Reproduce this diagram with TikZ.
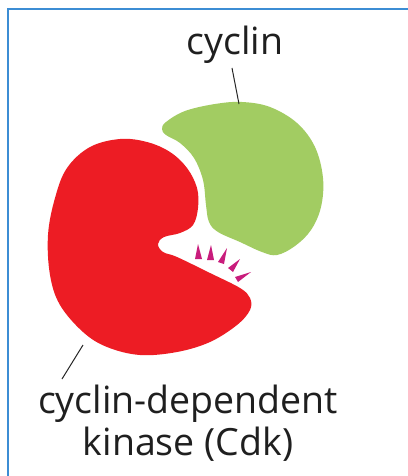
\documentclass[tikz,border=0pt]{standalone}
\usepackage{fontspec}
\setmainfont{Open Sans}
\begin{document}
\begin{tikzpicture}[x=1pt,y=-1pt,
  leader/.style={draw=black!85,line width=1pt},
  lbl/.style={inner sep=0pt,outer sep=0pt,text=black!88,font=\fontsize{37.5}{42}\selectfont},
  spike/.style={fill=spikecol},
]
\definecolor{frame}{HTML}{3C8DD4}
\definecolor{cdkred}{HTML}{ED1C24}
\definecolor{cycgreen}{HTML}{A2CC62}
\definecolor{spikecol}{HTML}{C91C7C}
\useasboundingbox (0,0) rectangle (407,476);
\fill[white] (0,0) rectangle (407,476);
% panel frame (left and top edges)
\draw[frame,line width=2.8pt] (8,477) -- (8,9) -- (408,9);

% cyclin
\fill[cycgreen] plot[smooth cycle,tension=0.6] coordinates {
  (166,122) (185,111) (215,104) (242,102) (270,107) (297,123) (315,147)
  (323,178) (321,207) (311,230) (295,246) (277,255) (262,252) (240,242)
  (218,232) (209,222) (206,205) (203,180) (194,158) (180,143) (166,135) (162,129)};

% cyclin-dependent kinase
\fill[cdkred] plot[smooth cycle,tension=0.6] coordinates {
  (120,139) (147,142) (170,152) (187,168) (197,188) (198,208) (193,225)
  (180,233) (164,237) (158,244) (163,252) (177,257) (210,273) (240,288)
  (250,298) (250,310) (237,325) (210,342) (177,352) (140,355) (107,347)
  (83,332) (60,305) (50,275) (48,235) (55,198) (67,168) (90,147)};

% activating spikes
\fill[spike] (198,244) -- (202,259) -- (195,259) -- cycle;
\fill[spike] (211,245) -- (214,260) -- (207,260) -- cycle;
\fill[spike] (227,248) -- (224,264) -- (218,262) -- cycle;
\fill[spike] (240,259) -- (233,272) -- (228,268) -- cycle;
\fill[spike] (251,272) -- (238,282) -- (235,277) -- cycle;

% labels
\node[lbl,anchor=base] (cyclin) at (235,55) {cyclin};
\node[lbl,anchor=base,align=center] (cdk) at (188,455) {cyclin-dependent\\kinase (Cdk)};

% leader lines
\coordinate (cyTop) at (232,68);
\coordinate (cyEnd) at (239,104);
\coordinate (cdkTop) at (83,345);
\coordinate (cdkEnd) at (62,379);
\draw[leader] (cyTop) -- (cyEnd);
\draw[leader] (cdkTop) -- (cdkEnd);
\end{tikzpicture}
\end{document}
